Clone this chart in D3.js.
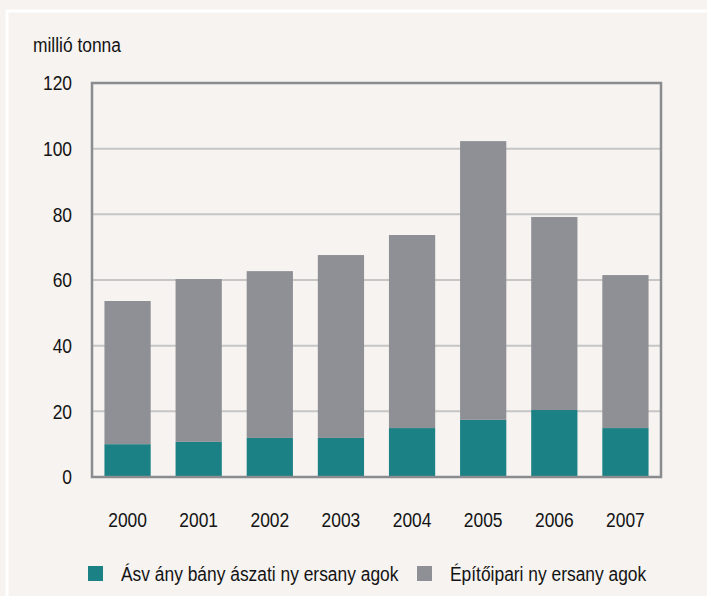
<!DOCTYPE html>
<html>
<head>
<meta charset="utf-8">
<script src="https://cdn.jsdelivr.net/npm/d3@7"></script>
<style>
  html, body { margin: 0; padding: 0; background: #f6f3f0; }
  svg { display: block; }
  text { font-family: "Liberation Sans", Arial, sans-serif; fill: #141414; font-size: 20px; }
</style>
</head>
<body>
<div id="chart"></div>
<script>
// Data (millió tonna)
const years = ['2000', '2001', '2002', '2003', '2004', '2005', '2006', '2007'];
const mining = [10.0, 10.7, 11.9, 11.9, 14.9, 17.4, 20.4, 14.9];
const construction = [43.6, 49.6, 50.8, 55.7, 58.8, 84.9, 58.8, 46.6];
const yTicks = [0, 20, 40, 60, 80, 100, 120];
const seriesNames = ['Ásv ány bány ászati ny ersany agok', 'Építőipari ny ersany agok'];
const seriesColors = ['#1b8185', '#8e9095'];

const width = 707, height = 596;
const margin = { top: 83, right: 46, bottom: 119, left: 92 };
const innerW = width - margin.left - margin.right;
const innerH = height - margin.top - margin.bottom;
const narrow = 0.87; // condensed look of the original font

const svg = d3.select('#chart')
    .append('svg')
    .attr('width', width)
    .attr('height', height);

// Outer white panel border
svg.append('rect')
    .attr('x', 7).attr('y', 11)
    .attr('width', width).attr('height', height)
    .attr('fill', 'none')
    .attr('stroke', '#ffffff')
    .attr('stroke-width', 3);

const g = svg.append('g')
    .attr('transform', `translate(${margin.left},${margin.top})`);

const x = d3.scaleBand()
    .domain(years)
    .range([0, innerW])
    .paddingInner(0.35)
    .paddingOuter(0.175);

const y = d3.scaleLinear()
    .domain([0, 120])
    .range([innerH, 0]);

// Gridlines
g.selectAll('.grid')
    .data(yTicks.filter(d => d > 0 && d < 120))
    .enter()
    .append('line')
    .attr('class', 'grid')
    .attr('x1', 0).attr('x2', innerW)
    .attr('y1', d => y(d)).attr('y2', d => y(d))
    .attr('stroke', '#c6c6c6')
    .attr('stroke-width', 2);

// Stacked bars
const rows = years.map((yr, i) => ({ year: yr, mining: mining[i], construction: construction[i] }));
const stack = d3.stack().keys(['mining', 'construction'])(rows);

g.selectAll('.series')
    .data(stack)
    .enter()
    .append('g')
    .attr('fill', (d, i) => seriesColors[i])
    .selectAll('rect')
    .data(d => d)
    .enter()
    .append('rect')
    .attr('x', d => x(d.data.year))
    .attr('y', d => y(d[1]))
    .attr('width', x.bandwidth())
    .attr('height', d => y(d[0]) - y(d[1]));

// Frame
g.append('rect')
    .attr('x', 0).attr('y', 0)
    .attr('width', innerW).attr('height', innerH)
    .attr('fill', 'none')
    .attr('stroke', '#8b8c90')
    .attr('stroke-width', 2.5);

// Y tick labels
g.selectAll('.ytick')
    .data(yTicks)
    .enter()
    .append('text')
    .attr('transform', d => `translate(-20,${y(d)}) scale(${narrow},1)`)
    .attr('dy', '0.36em')
    .attr('text-anchor', 'end')
    .text(d => d);

// X tick labels
g.selectAll('.xtick')
    .data(years)
    .enter()
    .append('text')
    .attr('transform', d => `translate(${x(d) + x.bandwidth() / 2},${innerH + 50}) scale(${narrow},1)`)
    .attr('text-anchor', 'middle')
    .text(d => d);

// Unit label
svg.append('text')
    .attr('transform', `translate(33,52) scale(${narrow},1)`)
    .text('millió tonna');

// Legend
const legendItems = [
    { name: seriesNames[0], color: seriesColors[0], x: 88 },
    { name: seriesNames[1], color: seriesColors[1], x: 417 }
];
const legend = svg.selectAll('.legend')
    .data(legendItems)
    .enter()
    .append('g')
    .attr('transform', d => `translate(${d.x},566)`);
legend.append('rect')
    .attr('width', 15).attr('height', 15)
    .attr('fill', d => d.color);
legend.append('text')
    .attr('transform', `translate(33,8) scale(${narrow},1)`)
    .attr('dy', '0.36em')
    .text(d => d.name);
</script>
</body>
</html>
